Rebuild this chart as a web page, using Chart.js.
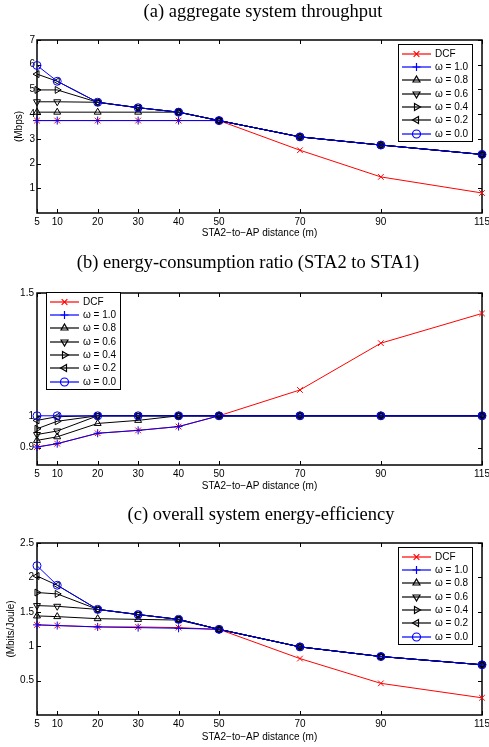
<!doctype html>
<html lang="en">
<head>
<meta charset="utf-8">
<title>STA2-to-AP distance results</title>
<script src="https://cdn.jsdelivr.net/npm/chart.js"></script>
<style>
  body { margin: 0; background: #fff; width: 489px; height: 747px; position: relative; overflow: hidden; }
  canvas { position: absolute; left: 0; }
  .t { position: absolute; width: 480px; text-align: center; font-family: "Liberation Serif", serif; font-size: 18.5px; line-height: 22px; color: #000; }
</style>
</head>
<body>
<canvas id="ca" width="489" height="250" style="top:0"></canvas>
<canvas id="cb" width="489" height="250" style="top:250px"></canvas>
<canvas id="cc" width="489" height="247" style="top:500px"></canvas>
<div class="t" style="top:0px;left:23px">(a) aggregate system throughput</div>
<div class="t" style="top:251px;left:8px">(b) energy-consumption ratio (STA2 to STA1)</div>
<div class="t" style="top:503px;left:21px">(c) overall system energy-efficiency</div>
<script>
const distances = [5, 10, 20, 30, 40, 50, 70, 90, 115]
const xTicks = [5, 10, 20, 30, 40, 50, 70, 90, 115]
const seriesNames = ['DCF', 'ω = 1.0', 'ω = 0.8', 'ω = 0.6', 'ω = 0.4', 'ω = 0.2', 'ω = 0.0']

// (a) aggregate throughput, Mbps
const dcfA = [3.74, 3.74, 3.74, 3.74, 3.74, 3.74, 2.54, 1.46, 0.81]
const w10A = [3.74, 3.74, 3.74, 3.74, 3.74, 3.74, 3.08, 2.75, 2.37]
const w08A = [4.08, 4.08, 4.08, 4.08, 4.08, 3.74, 3.08, 2.75, 2.37]
const w06A = [4.5, 4.5, 4.48, 4.26, 4.08, 3.74, 3.08, 2.75, 2.37]
const w04A = [4.98, 4.98, 4.48, 4.26, 4.08, 3.74, 3.08, 2.75, 2.37]
const w02A = [5.62, 5.33, 4.48, 4.26, 4.08, 3.74, 3.08, 2.75, 2.37]
const w00A = [5.97, 5.33, 4.48, 4.26, 4.08, 3.74, 3.08, 2.75, 2.37]
const yTicksA = [1, 2, 3, 4, 5, 6, 7]

// (b) energy-consumption ratio, log axis
const dcfB = [0.902, 0.912, 0.944, 0.953, 0.965, 1.0, 1.089, 1.271, 1.402]
const w10B = [0.902, 0.912, 0.944, 0.953, 0.965, 1.0, 1.0, 1.0, 1.0]
const w08B = [0.922, 0.933, 0.975, 0.985, 1.0, 1.0, 1.0, 1.0, 1.0]
const w06B = [0.94, 0.951, 1.0, 1.0, 1.0, 1.0, 1.0, 1.0, 1.0]
const w04B = [0.958, 0.982, 1.0, 1.0, 1.0, 1.0, 1.0, 1.0, 1.0]
const w02B = [0.985, 0.997, 1.0, 1.0, 1.0, 1.0, 1.0, 1.0, 1.0]
const w00B = [1.0, 1.0, 1.0, 1.0, 1.0, 1.0, 1.0, 1.0, 1.0]
const yTicksB = [0.9, 1, 1.5]

// (c) energy efficiency, Mbits/Joule
const dcfC = [1.31, 1.3, 1.28, 1.28, 1.27, 1.245, 0.82, 0.46, 0.25]
const w10C = [1.31, 1.3, 1.28, 1.27, 1.26, 1.245, 0.99, 0.85, 0.73]
const w08C = [1.44, 1.43, 1.4, 1.39, 1.38, 1.245, 0.99, 0.85, 0.73]
const w06C = [1.59, 1.58, 1.535, 1.46, 1.39, 1.245, 0.99, 0.85, 0.73]
const w04C = [1.78, 1.76, 1.535, 1.46, 1.39, 1.245, 0.99, 0.85, 0.73]
const w02C = [2.02, 1.886, 1.535, 1.46, 1.39, 1.245, 0.99, 0.85, 0.73]
const w00C = [2.17, 1.886, 1.535, 1.46, 1.39, 1.245, 0.99, 0.85, 0.73]
const yTicksC = [0.5, 1, 1.5, 2, 2.5]

const styles = [
  { color: '#ff0000', point: 'crossRot', rot: 0 },
  { color: '#0000ff', point: 'cross', rot: 0 },
  { color: '#000000', point: 'triangle', rot: 0 },
  { color: '#000000', point: 'triangle', rot: 180 },
  { color: '#000000', point: 'triangle', rot: 90 },
  { color: '#000000', point: 'triangle', rot: -90 },
  { color: '#0000ff', point: 'circle', rot: 0 },
]

Chart.defaults.font.family = '"Liberation Sans", Arial, sans-serif'
Chart.defaults.font.size = 10
Chart.defaults.color = '#000'

// matlab style box with inward ticks
const framePlugin = {
  id: 'frame',
  beforeDatasetsDraw(chart) {
    const { ctx, chartArea: a, scales: { x, y } } = chart
    ctx.save()
    ctx.strokeStyle = '#000'
    ctx.lineWidth = 1
    ctx.beginPath()
    x.ticks.forEach((t) => {
      const px = Math.round(x.getPixelForValue(t.value)) + 0.5
      ctx.moveTo(px, a.bottom); ctx.lineTo(px, a.bottom - 4)
      ctx.moveTo(px, a.top); ctx.lineTo(px, a.top + 4)
    })
    y.ticks.forEach((t) => {
      const py = Math.round(y.getPixelForValue(t.value)) + 0.5
      ctx.moveTo(a.left, py); ctx.lineTo(a.left + 4, py)
      ctx.moveTo(a.right, py); ctx.lineTo(a.right - 4, py)
    })
    ctx.stroke()
    ctx.lineWidth = 1.5
    ctx.strokeRect(a.left, a.top, a.width, a.height)
    ctx.restore()
  },
}

const legendPlugin = {
  id: 'boxLegend',
  afterDraw(chart, args, opts) {
    const { ctx, chartArea: a } = chart
    const w = 74, h = 97, step = 13.35
    const left = Math.round(opts.side === 'right' ? a.right - 10.5 - w : a.left + 9)
    const top = Math.round(a.top + opts.dy)
    ctx.save()
    ctx.fillStyle = '#fff'
    ctx.fillRect(left, top, w, h)
    ctx.strokeStyle = '#000'
    ctx.lineWidth = 1
    ctx.strokeRect(left + 0.5, top + 0.5, w, h)
    ctx.font = '10px "Liberation Sans", Arial, sans-serif'
    ctx.textBaseline = 'middle'
    chart.data.datasets.forEach((ds, i) => {
      const yy = Math.round(top + 9.5 + i * step)
      ctx.strokeStyle = ds.borderColor
      ctx.lineWidth = 1.2
      ctx.beginPath(); ctx.moveTo(left + 4, yy); ctx.lineTo(left + 33, yy); ctx.stroke()
      ctx.fillStyle = 'rgba(0,0,0,0)'
      Chart.helpers.drawPoint(ctx, { pointStyle: ds.pointStyle, rotation: ds.pointRotation, radius: 4, borderWidth: 1.2 }, left + 18.5, yy)
      ctx.fillStyle = '#000'
      ctx.fillText(ds.label, left + 37, yy)
    })
    ctx.restore()
  },
}

function makeChart(id, series, o) {
  return new Chart(document.getElementById(id), {
    type: 'line',
    data: {
      datasets: series.map((vals, i) => ({
        label: seriesNames[i],
        data: distances.map((d, j) => ({ x: d, y: vals[j] })),
        borderColor: styles[i].color,
        borderWidth: 1,
        pointStyle: styles[i].point,
        pointRotation: styles[i].rot,
        pointRadius: 4,
        pointBorderWidth: 1,
        pointBorderColor: styles[i].color,
        pointBackgroundColor: 'rgba(0,0,0,0)',
        tension: 0,
        clip: false,
        order: series.length - i,
      })),
    },
    options: {
      responsive: false,
      animation: false,
      devicePixelRatio: 1,
      layout: { padding: { top: o.top, right: 7, left: 0, bottom: 0 } },
      plugins: {
        legend: { display: false },
        tooltip: { enabled: false },
        boxLegend: { side: o.legendSide, dy: o.legendDy },
      },
      scales: {
        x: {
          type: 'linear',
          min: 5,
          max: 115,
          afterBuildTicks: (s) => { s.ticks = xTicks.map((v) => ({ value: v })) },
          afterFit: (s) => { s.height = o.bottom; s.paddingLeft = 0; s.paddingRight = 0 },
          grid: { display: false, drawTicks: false },
          border: { display: false },
          ticks: { autoSkip: false, maxRotation: 0, padding: 3, callback: (v) => String(v) },
          title: { display: true, text: 'STA2−to−AP distance (m)', padding: { top: 0, bottom: o.xTitlePad } },
        },
        y: {
          type: o.yType,
          min: o.yMin,
          max: o.yMax,
          afterBuildTicks: (s) => { s.ticks = o.yTicks.map((v) => ({ value: v })) },
          afterFit: (s) => { s.width = 37; s.paddingTop = 0; s.paddingBottom = 0 },
          grid: { display: false, drawTicks: false },
          border: { display: false },
          ticks: { autoSkip: false, padding: o.yTickPad, callback: (v) => String(v) },
          title: { display: !!o.yTitle, text: o.yTitle, padding: { top: o.yTitlePad, bottom: 0 } },
        },
      },
    },
    plugins: [framePlugin, legendPlugin],
  })
}

makeChart('ca', [dcfA, w10A, w08A, w06A, w04A, w02A, w00A], {
  top: 40, bottom: 37, xTitlePad: 10.7, yType: 'linear', yMin: 0, yMax: 7, yTicks: yTicksA,
  yTickPad: 2, yTitle: '(Mbps)', yTitlePad: 13, legendSide: 'right', legendDy: 3.7,
})
makeChart('cb', [dcfB, w10B, w08B, w06B, w04B, w02B, w00B], {
  top: 43, bottom: 35, xTitlePad: 7.3, yType: 'logarithmic', yMin: 0.85, yMax: 1.5, yTicks: yTicksB,
  yTickPad: 3, yTitle: '', yTitlePad: 0, legendSide: 'left', legendDy: -1,
})
makeChart('cc', [dcfC, w10C, w08C, w06C, w04C, w02C, w00C], {
  top: 43, bottom: 32, xTitlePad: 4, yType: 'linear', yMin: 0, yMax: 2.5, yTicks: yTicksC,
  yTickPad: 3, yTitle: '(Mbits/Joule)', yTitlePad: 5, legendSide: 'right', legendDy: 3.7,
})
</script>
</body>
</html>
